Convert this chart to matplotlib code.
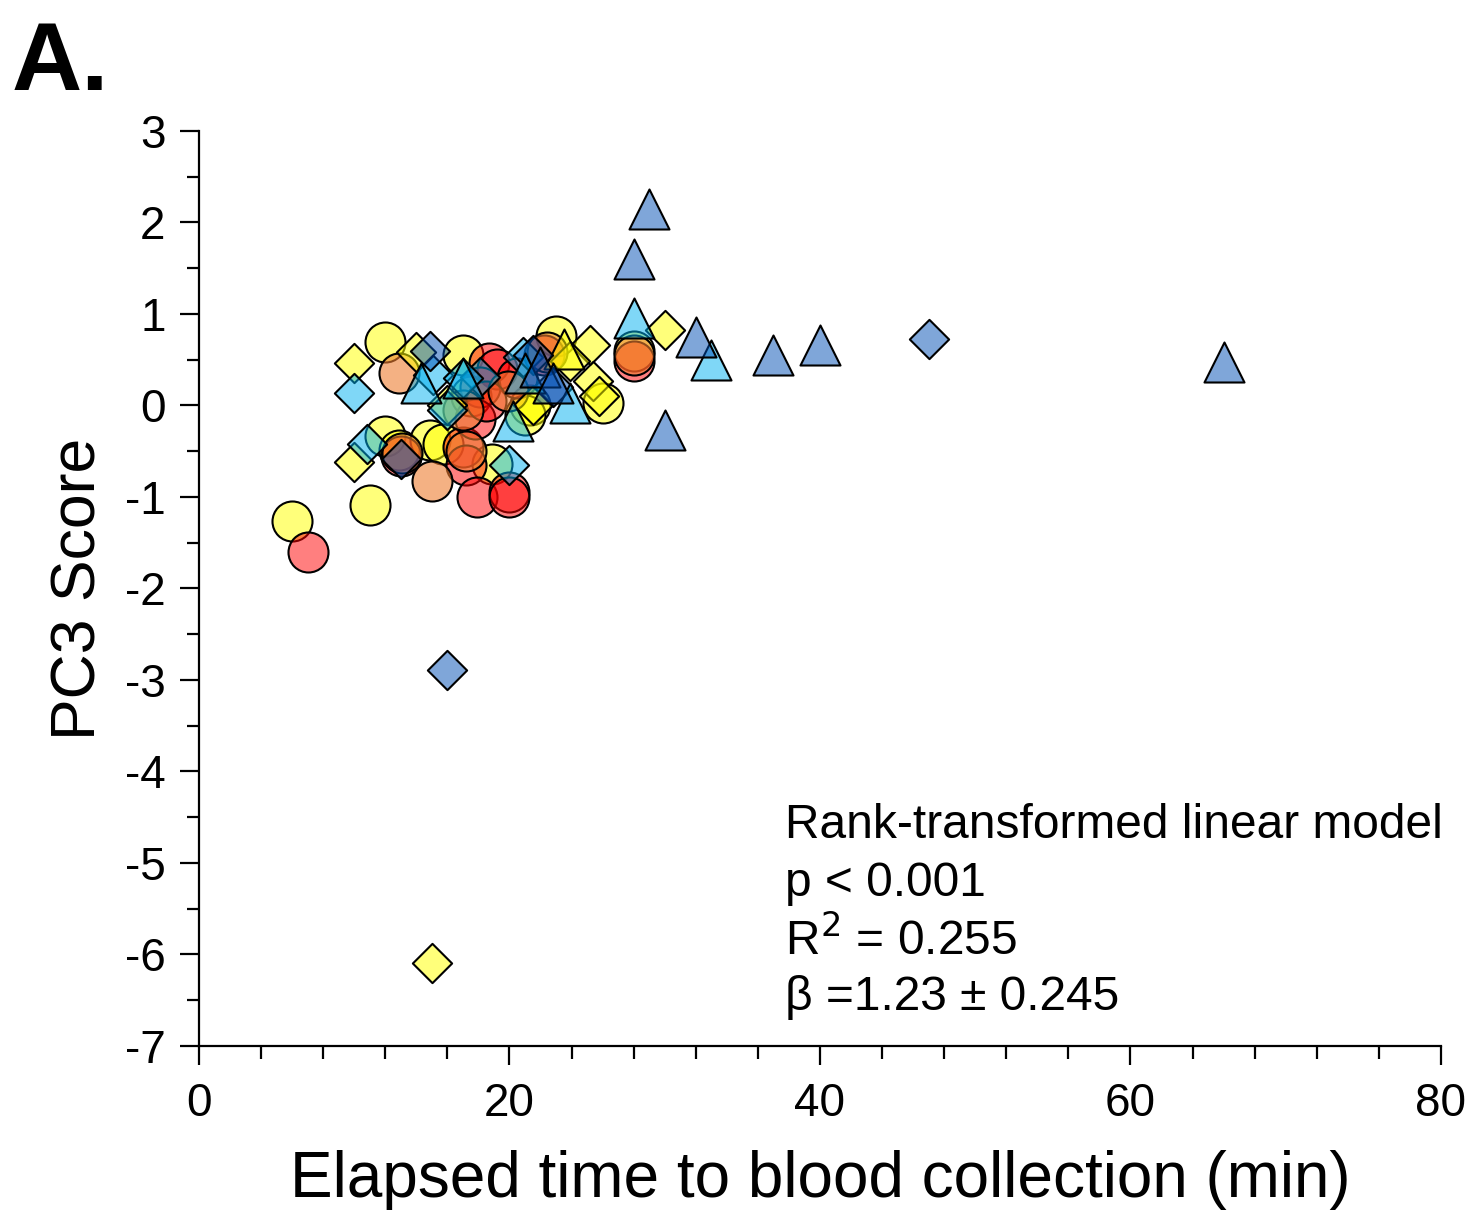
import matplotlib.pyplot as plt
import numpy as np

plt.rcParams['font.family'] = ['Liberation Sans', 'DejaVu Sans']
plt.rcParams['axes.unicode_minus'] = False

# yellow circles / diamonds / triangles
yc_x = [6.0, 11.0, 12.0, 12.0, 12.9, 14.9, 15.7, 17.0, 18.9, 21.3, 21.0, 23.0, 26.0, 28.0, 17.5]
yc_y = [-1.26, -1.09, 0.69, -0.33, -0.49, -0.38, -0.42, 0.55, -0.64, 0.0, -0.1, 0.76, 0.03, 0.6, 0.1]
yd_x = [10.0, 10.0, 14.0, 15.0, 25.2, 25.4, 25.8, 30.0, 23.9, 16.0, 21.5]
yd_y = [0.46, -0.62, 0.58, -6.09, 0.66, 0.27, 0.1, 0.82, 0.49, 0.0, 0.0]
yt_x = [23.5]
yt_y = [0.62]

# salmon and red circles
sc_x = [12.9, 15.0, 17.0, 19.9, 22.4, 28.0, 13.1, 17.2]
sc_y = [0.35, -0.82, -0.05, 0.16, 0.58, 0.55, -0.52, -0.5]
rc_x = [7.0, 13.0, 17.0, 17.2, 17.9, 18.7, 19.2, 20.0, 20.0, 18.1, 20.5, 22.2, 28.0, 17.8, 18.5]
rc_y = [-1.6, -0.55, -0.45, -0.65, -1.0, 0.46, 0.4, -0.95, -1.0, 0.2, 0.3, 0.55, 0.49, -0.15, 0.05]

# light blue diamonds / triangles
bd_x = [10.0, 10.8, 15.1, 16.0, 18.1, 20.9, 20.0, 17.0]
bd_y = [0.14, -0.42, 0.33, -0.05, 0.31, 0.53, -0.65, 0.3]
bt_x = [14.3, 17.0, 20.2, 23.9, 28.0, 33.0, 21.0]
bt_y = [0.25, 0.3, -0.17, 0.03, 0.96, 0.5, 0.35]

# steel blue diamonds / triangles
sd_x = [14.9, 13.0, 16.0, 47.0, 21.5, 22.8]
sd_y = [0.6, -0.58, -2.89, 0.73, 0.55, 0.2]
st_x = [29.0, 28.0, 32.0, 37.0, 40.0, 66.0, 30.0, 22.0, 22.8]
st_y = [2.15, 1.6, 0.75, 0.55, 0.66, 0.47, -0.27, 0.42, 0.25]

yellow = (1.0, 1.0, 0.0, 0.52)
salmon = (0.93, 0.49, 0.19, 0.6)
red = (1.0, 0.0, 0.0, 0.5)
lblue = (0.0, 0.69, 0.94, 0.5)
sblue = (0.0, 0.31, 0.71, 0.5)

fig = plt.figure(figsize=(14.78, 12.16), dpi=100)
ax = fig.add_axes([0.1346, 0.1398, 0.8403, 0.7525])

circ = 830
dia = 400
tri = 830
lw = 1.5

ax.scatter(yc_x, yc_y, s=circ, marker='o', c=[yellow], edgecolors='black', linewidths=lw, zorder=2)
ax.scatter(rc_x, rc_y, s=circ, marker='o', c=[red], edgecolors='black', linewidths=lw, zorder=3)
ax.scatter(sc_x, sc_y, s=circ, marker='o', c=[salmon], edgecolors='black', linewidths=lw, zorder=3)
ax.scatter(yd_x, yd_y, s=dia, marker='D', c=[yellow], edgecolors='black', linewidths=lw, zorder=4)
ax.scatter(yt_x, yt_y, s=tri, marker='^', c=[yellow], edgecolors='black', linewidths=lw, zorder=4)
ax.scatter(bd_x, bd_y, s=dia, marker='D', c=[lblue], edgecolors='black', linewidths=lw, zorder=4)
ax.scatter(sd_x, sd_y, s=dia, marker='D', c=[sblue], edgecolors='black', linewidths=lw, zorder=4)
ax.scatter(bt_x, bt_y, s=tri, marker='^', c=[lblue], edgecolors='black', linewidths=lw, zorder=5)
ax.scatter(st_x, st_y, s=tri, marker='^', c=[sblue], edgecolors='black', linewidths=lw, zorder=5)

ax.set_xlim(0, 80)
ax.set_ylim(-7, 3)
ax.set_xticks([0, 20, 40, 60, 80])
ax.set_xticks(np.arange(0, 81, 4), minor=True)
ax.set_yticks(np.arange(-7, 4, 1))
ax.set_yticks(np.arange(-7, 3.1, 0.5), minor=True)

for s in ['top', 'right']:
    ax.spines[s].set_visible(False)
for s in ['left', 'bottom']:
    ax.spines[s].set_linewidth(1.6)

ax.tick_params(axis='both', which='major', length=14, width=1.6, labelsize=33, direction='out')
ax.tick_params(axis='both', which='minor', length=9, width=1.6, direction='out')
ax.tick_params(axis='x', pad=12)
ax.tick_params(axis='y', pad=10)

ax.set_xlabel('Elapsed time to blood collection (min)', fontsize=46, labelpad=17)
ax.set_ylabel('PC3 Score', fontsize=45, labelpad=12)

stats = ['Rank-transformed linear model', 'p < 0.001', 'R$^2$ = 0.255', 'β =1.23 ± 0.245']
ys = [826, 884, 941, 998]
for t, yy in zip(stats, ys):
    fig.text(785 / 1478, 1 - yy / 1216, t, fontsize=34.5, ha='left', va='center')

fig.text(12 / 1478, 1 - 65 / 1216, 'A.', fontsize=70, fontweight='bold', ha='left', va='center')

fig.savefig('out.png', dpi=100)
